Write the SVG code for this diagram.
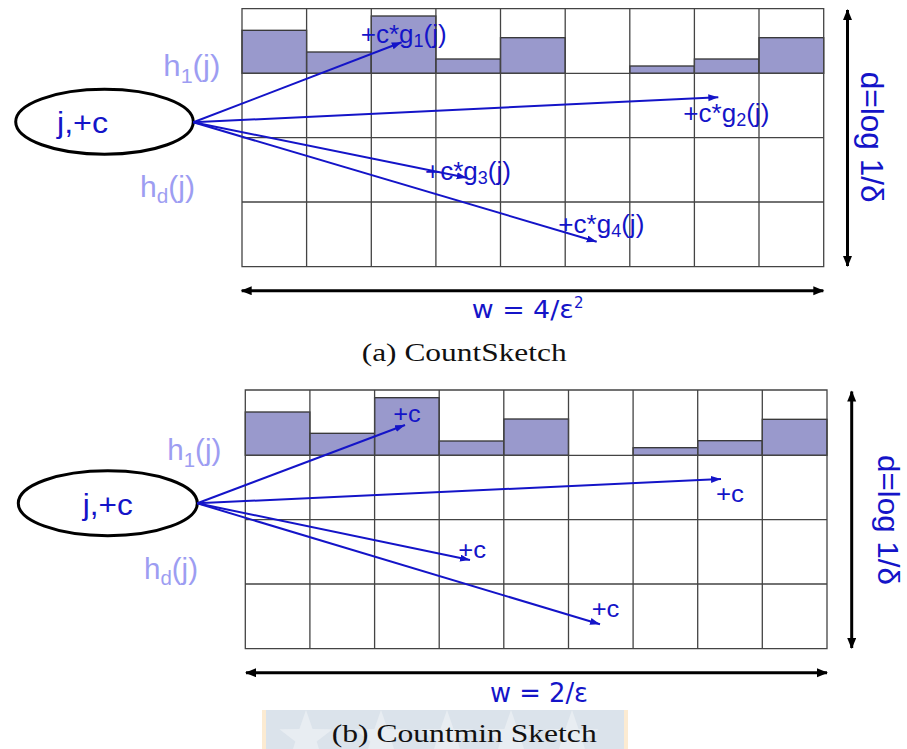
<svg xmlns="http://www.w3.org/2000/svg" width="907" height="749" viewBox="0 0 907 749">
<defs>
<style>
.grid{fill:none;stroke:#444;stroke-width:1.3}
.bar{fill:#9999cc;stroke:#333;stroke-width:1.3}
.ell{fill:#fff;stroke:#000;stroke-width:3}
.blue{stroke:#1414c8;stroke-width:2;fill:none;marker-end:url(#ab)}
.dim{stroke:#000;stroke-width:3;fill:none;marker-start:url(#ak);marker-end:url(#ak)}
.lbl{font-family:"Liberation Sans",Arial,sans-serif;fill:#1414c8}
.h{font-family:"Liberation Sans",Arial,sans-serif;fill:#9d9df2;font-size:29px}
.w{font-family:"DejaVu Sans",sans-serif;fill:#1414c8}
.cap{font-family:"Liberation Serif","Times New Roman",serif;fill:#111;font-size:26px}
</style>
<marker id="ab" markerUnits="userSpaceOnUse" markerWidth="11" markerHeight="8" refX="10" refY="3.5" orient="auto"><path d="M0,0 L10,3.5 L0,7 z" fill="#1414c8"/></marker>
<marker id="ak" markerUnits="userSpaceOnUse" markerWidth="12" markerHeight="10" refX="10" refY="4.5" orient="auto-start-reverse"><path d="M0,0 L11,4.5 L0,9 z" fill="#000"/></marker>
<polygon id="star" points="0,-28 6.6,-9.1 26.6,-8.7 10.7,3.5 16.5,22.7 0,11.2 -16.5,22.7 -10.7,3.5 -26.6,-8.7 -6.6,-9.1" fill="#e8edf2"/>
</defs>
<rect width="907" height="749" fill="#fff"/>

<!-- Top: CountSketch -->
<g id="grid-a">
<rect class="bar" x="242" y="30.3" width="64.6" height="43"/>
<rect class="bar" x="306.6" y="52" width="64.7" height="21.3"/>
<rect class="bar" x="371.3" y="16" width="64.6" height="57.3"/>
<rect class="bar" x="435.9" y="59" width="64.6" height="14.3"/>
<rect class="bar" x="500.5" y="37.7" width="64.7" height="35.6"/>
<rect class="bar" x="629.8" y="66" width="64.6" height="7.3"/>
<rect class="bar" x="694.4" y="59" width="64.6" height="14.3"/>
<rect class="bar" x="759" y="37.7" width="64.7" height="35.6"/>
<path class="grid" d="M242,8.7H823.7V266.7H242Z M242,73.3H823.7 M242,137.7H823.7 M242,202H823.7 M306.6,8.7V266.7 M371.3,8.7V266.7 M435.9,8.7V266.7 M500.5,8.7V266.7 M565.2,8.7V266.7 M629.8,8.7V266.7 M694.4,8.7V266.7 M759,8.7V266.7"/>
</g>
<g id="node-a">
<ellipse class="ell" cx="104.5" cy="121.8" rx="88.8" ry="32.5"/>
<text class="lbl" x="57" y="133.3" font-size="30" textLength="51" lengthAdjust="spacingAndGlyphs">j,+c</text>
</g>
<g id="hash-labels-a">
<text class="h" x="163.3" y="76" textLength="57" lengthAdjust="spacingAndGlyphs">h<tspan font-size="20" dy="7">1</tspan><tspan dy="-7">(j)</tspan></text>
<text class="h" x="140" y="196.7" textLength="55" lengthAdjust="spacingAndGlyphs">h<tspan font-size="20" dy="6">d</tspan><tspan dy="-6">(j)</tspan></text>
</g>
<g id="connectors-a">
<line class="blue" x1="193.3" y1="122.3" x2="401.7" y2="42.3"/>
<line class="blue" x1="193.3" y1="122.3" x2="718.3" y2="97.3"/>
<line class="blue" x1="193.3" y1="122.3" x2="466.7" y2="177.7"/>
<line class="blue" x1="193.3" y1="122.3" x2="596.7" y2="241.7"/>
</g>
<g id="update-labels-a">
<text class="lbl" x="360.7" y="43" font-size="26" textLength="86" lengthAdjust="spacingAndGlyphs">+c*g<tspan font-size="18" dy="4">1</tspan><tspan dy="-4">(j)</tspan></text>
<text class="lbl" x="683.3" y="121.7" font-size="26" textLength="86" lengthAdjust="spacingAndGlyphs">+c*g<tspan font-size="18" dy="4">2</tspan><tspan dy="-4">(j)</tspan></text>
<text class="lbl" x="425" y="180" font-size="26" textLength="86" lengthAdjust="spacingAndGlyphs">+c*g<tspan font-size="18" dy="4">3</tspan><tspan dy="-4">(j)</tspan></text>
<text class="lbl" x="558.3" y="233.3" font-size="26" textLength="86" lengthAdjust="spacingAndGlyphs">+c*g<tspan font-size="18" dy="4">4</tspan><tspan dy="-4">(j)</tspan></text>
</g>
<g id="dims-a">
<line class="dim" x1="847.5" y1="10" x2="847.5" y2="266"/>
<text class="lbl" transform="translate(861,71.7) rotate(90)" font-size="31" textLength="131" lengthAdjust="spacingAndGlyphs">d=log 1/δ</text>
<line class="dim" x1="241.7" y1="290.7" x2="823.3" y2="290.7"/>
<text class="w" x="471.7" y="318.3" font-size="25" textLength="102" lengthAdjust="spacingAndGlyphs">w = 4/ε</text>
<text class="w" x="574" y="308" font-size="15">2</text>
</g>
<text id="caption-a" class="cap" x="361.7" y="360.7" textLength="205" lengthAdjust="spacingAndGlyphs">(a) CountSketch</text>

<!-- Bottom: Countmin -->
<g id="grid-b">
<rect class="bar" x="245.3" y="412" width="64.6" height="43.3"/>
<rect class="bar" x="309.9" y="433.3" width="64.7" height="22"/>
<rect class="bar" x="374.6" y="397.7" width="64.6" height="57.6"/>
<rect class="bar" x="439.2" y="441" width="64.6" height="14.3"/>
<rect class="bar" x="503.8" y="419" width="64.7" height="36.3"/>
<rect class="bar" x="633.1" y="447.7" width="64.6" height="7.6"/>
<rect class="bar" x="697.7" y="440.7" width="64.6" height="14.6"/>
<rect class="bar" x="762.3" y="419.3" width="64.7" height="36"/>
<path class="grid" d="M245.3,390H827V648.7H245.3Z M245.3,455.3H827 M245.3,519.7H827 M245.3,584H827 M309.9,390V648.7 M374.6,390V648.7 M439.2,390V648.7 M503.8,390V648.7 M568.5,390V648.7 M633.1,390V648.7 M697.7,390V648.7 M762.3,390V648.7"/>
</g>
<g id="node-b">
<ellipse class="ell" cx="107.8" cy="503.2" rx="89.5" ry="32.5"/>
<text class="lbl" x="82.7" y="515" font-size="30" textLength="50" lengthAdjust="spacingAndGlyphs">j,+c</text>
</g>
<g id="hash-labels-b">
<text class="h" x="167.3" y="460" textLength="54" lengthAdjust="spacingAndGlyphs">h<tspan font-size="20" dy="7">1</tspan><tspan dy="-7">(j)</tspan></text>
<text class="h" x="144" y="579.3" textLength="54" lengthAdjust="spacingAndGlyphs">h<tspan font-size="20" dy="6">d</tspan><tspan dy="-6">(j)</tspan></text>
</g>
<g id="connectors-b">
<line class="blue" x1="197.3" y1="503.3" x2="405" y2="425"/>
<line class="blue" x1="197.3" y1="503.3" x2="721" y2="479"/>
<line class="blue" x1="197.3" y1="503.3" x2="470" y2="560"/>
<line class="blue" x1="197.3" y1="503.3" x2="600" y2="624.3"/>
</g>
<g id="update-labels-b">
<text class="lbl" x="393.3" y="421.7" font-size="23" textLength="27.5" lengthAdjust="spacingAndGlyphs">+c</text>
<text class="lbl" x="716" y="501.7" font-size="23" textLength="28" lengthAdjust="spacingAndGlyphs">+c</text>
<text class="lbl" x="458.3" y="558.3" font-size="23" textLength="27.7" lengthAdjust="spacingAndGlyphs">+c</text>
<text class="lbl" x="591.7" y="616.7" font-size="23" textLength="27.7" lengthAdjust="spacingAndGlyphs">+c</text>
</g>
<g id="dims-b">
<line class="dim" x1="851.7" y1="391.5" x2="851.7" y2="648"/>
<text class="lbl" transform="translate(877.5,455) rotate(90)" font-size="30" textLength="130" lengthAdjust="spacingAndGlyphs">d=log 1/δ</text>
<line class="dim" x1="246" y1="672.7" x2="827" y2="672.7"/>
<text class="w" x="490" y="701.7" font-size="27" textLength="98" lengthAdjust="spacingAndGlyphs">w = 2/ε</text>
</g>
<g id="watermark">
<rect x="262" y="710" width="366" height="39" fill="#dbe3eb"/>
<rect x="262" y="710" width="4" height="39" fill="#fcebd2"/>
<rect x="624" y="710" width="4" height="39" fill="#fcebd2"/>
<use href="#star" x="306" y="738"/>
<use href="#star" x="381" y="738"/>
<use href="#star" x="447" y="738"/>
<use href="#star" x="511" y="738"/>
<use href="#star" x="572" y="738"/>
</g>
<text id="caption-b" class="cap" x="331.7" y="741.7" textLength="265" lengthAdjust="spacingAndGlyphs">(b) Countmin Sketch</text>
</svg>
